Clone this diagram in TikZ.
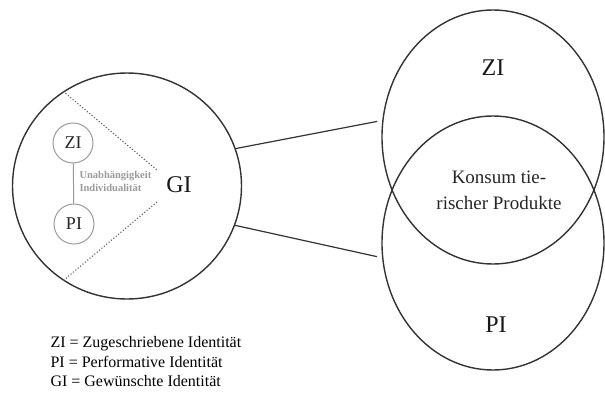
\documentclass[tikz,border=0pt]{standalone}
\usepackage{fontspec}
\setmainfont{Liberation Serif}
\usepackage{xcolor}
\usepackage{tikz}
\usetikzlibrary{shapes.geometric}

\definecolor{linegray}{HTML}{333333}
\definecolor{softgray}{HTML}{9A9A9A}

\tikzset{
  bigring/.style={ellipse, draw=linegray, line width=1.4pt, inner sep=0pt},
  smallring/.style={circle, draw=softgray, line width=1pt, minimum size=40pt, inner sep=0pt,
    font=\fontsize{18}{20}\selectfont, text=black!85},
  biglabel/.style={font=\fontsize{24}{28}\selectfont, text=black!90},
  link/.style={draw=linegray, line width=1.2pt}
}

\begin{document}
\begin{tikzpicture}[x=1pt,y=-1pt]
\useasboundingbox (0,0) rectangle (605,394);

% Left: desired identity
\node[bigring, minimum width=229pt, minimum height=226pt] (gi) at (127,186) {};
\node[biglabel] (gilabel) at (179,185) {GI};

\node[smallring] (zis) at (73,143) {ZI};
\node[smallring] (pis) at (74,224) {PI};
\draw[softgray, line width=1pt] (zis) -- (pis);
\node[anchor=west, align=left, text=softgray, font=\fontsize{10.5}{13}\selectfont\bfseries] (indiv) at (76,181)
  {Unabhängigkeit\\Individualität};

% Dotted wedge
\coordinate (tipa) at (157,170);
\coordinate (tipb) at (157,202);
\draw[softgray!60!black, dotted, line width=1.1pt] (gi.124) -- (tipa);
\draw[softgray!60!black, dotted, line width=1.1pt] (tipb) -- (gi.236);

% Right: overlapping identities
\node[bigring, minimum width=222pt, minimum height=254pt] (zi) at (493,137) {};
\node[bigring, minimum width=222pt, minimum height=254pt] (pi) at (493,243) {};
\node[biglabel] (zilabel) at (493,68) {ZI};
\node[biglabel] (pilabel) at (496,325) {PI};
\node[align=center, font=\fontsize{19}{26}\selectfont, text=black!85] (konsum) at (499,190)
  {Konsum tie-\\rischer Produkte};

% Connectors
\draw[link] (gi.19) -- ([xshift=-5pt]zi.172);
\draw[link] (gi.-20) -- ([xshift=-5pt]pi.187);

% Legend
\node[anchor=west, align=left, font=\fontsize{16}{19.5}\selectfont] (legend) at (47,362)
  {ZI = Zugeschriebene Identität\\PI = Performative Identität\\GI = Gewünschte Identität};
\end{tikzpicture}
\end{document}
